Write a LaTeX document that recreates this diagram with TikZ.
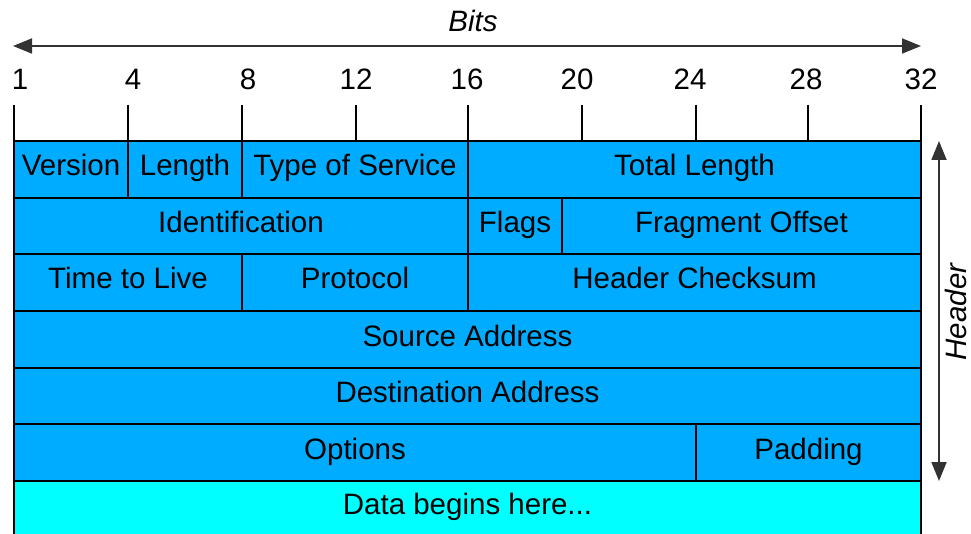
\documentclass[tikz,border=0pt]{standalone}
\usepackage{fontspec}
\setmainfont{Liberation Sans}
\usetikzlibrary{arrows.meta}
\definecolor{fieldblue}{RGB}{0,172,255}
\definecolor{datacyan}{RGB}{0,255,255}
\definecolor{linegray}{RGB}{50,50,50}
\begin{document}
\begin{tikzpicture}[x=1pt,y=-1pt,
  field/.style={draw=black,line width=1.6pt,fill=fieldblue},
  datafield/.style={draw=black,line width=1.6pt,fill=datacyan},
  lbl/.style={font=\fontsize{29.5}{33}\selectfont,inner sep=0pt,text height=21pt,text depth=8pt},
  numlbl/.style={font=\fontsize{29.5}{33}\selectfont,inner sep=0pt,anchor=base},
  ilbl/.style={font=\fontsize{29.5}{33}\selectfont\itshape,inner sep=0pt,anchor=base},
  tick/.style={draw=black,line width=1.6pt},
  dimarrow/.style={draw=linegray,line width=1.8pt,{Triangle[length=19pt,width=15pt]}-{Triangle[length=19pt,width=15pt]}}
]
\useasboundingbox (0,0) rectangle (971,534);
\clip (0,0) rectangle (971,534);
% bits arrow
\coordinate (bl) at (13,46);
\coordinate (br) at (921,46);
\draw[dimarrow] (bl) -- (br);
\node[ilbl] (bits) at (473,32) {Bits};
% tick labels
\foreach \n/\x in {1/20,4/133,8/248,12/356,16/467,20/577,24/690,28/806,32/921}
  \node[numlbl] (t\n) at (\x,90) {\n};
% ticks
\foreach \x in {14,128,242,356,468,582,696,808,921}
  \draw[tick] (\x,105) -- (\x,141);
% rows
\draw[field] (14,141) rectangle node[lbl] (ver) {Version} (128,198);
\draw[field] (128,141) rectangle node[lbl] (len) {Length} (242,198);
\draw[field] (242,141) rectangle node[lbl] (tos) {Type of Service} (468,198);
\draw[field] (468,141) rectangle node[lbl] (tot) {Total Length} (921,198);
\draw[field] (14,198) rectangle node[lbl] (idf) {Identification} (468,254);
\draw[field] (468,198) rectangle node[lbl] (flg) {Flags} (562,254);
\draw[field] (562,198) rectangle node[lbl] (frag) {Fragment Offset} (921,254);
\draw[field] (14,254) rectangle node[lbl] (ttl) {Time to Live} (242,311);
\draw[field] (242,254) rectangle node[lbl] (prot) {Protocol} (468,311);
\draw[field] (468,254) rectangle node[lbl] (chk) {Header Checksum} (921,311);
\draw[field] (14,311) rectangle node[lbl] (src) {Source Address} (921,368);
\draw[field] (14,368) rectangle node[lbl] (dst) {Destination Address} (921,424);
\draw[field] (14,424) rectangle node[lbl] (opt) {Options} (696,481);
\draw[field] (696,424) rectangle node[lbl] (pad) {Padding} (921,481);
\draw[datafield] (14,481) rectangle (921,545);
\node[lbl] (data) at (467.5,507.5) {Data begins here...};
% header arrow
\coordinate (ht) at (939,141);
\coordinate (hb) at (939,481);
\draw[dimarrow] (ht) -- (hb);
\node[ilbl,rotate=90] (hdr) at (966,312) {Header};
\end{tikzpicture}
\end{document}
